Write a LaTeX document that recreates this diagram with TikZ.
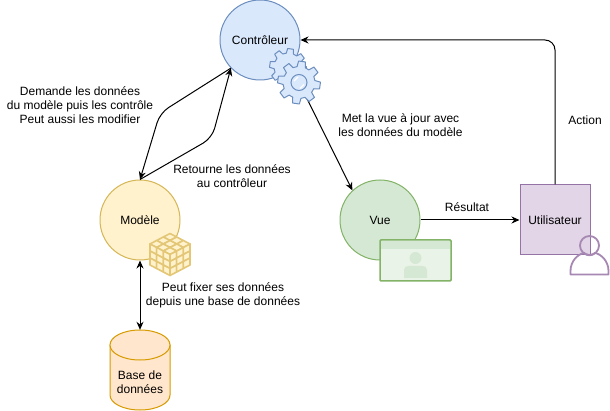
\documentclass[tikz,border=0pt]{standalone}
\usepackage{fontspec}
\setmainfont{Liberation Sans}
\usetikzlibrary{arrows.meta}
\definecolor{ctrlfill}{HTML}{DAE8FC}\definecolor{ctrlline}{HTML}{6C8EBF}
\definecolor{modfill}{HTML}{FFF2CC}\definecolor{modline}{HTML}{D6B656}
\definecolor{vuefill}{HTML}{D5E8D4}\definecolor{vueline}{HTML}{82B366}
\definecolor{usrfill}{HTML}{E1D5E7}\definecolor{usrline}{HTML}{9673A6}
\definecolor{dbfill}{HTML}{FFE6CC}\definecolor{dbline}{HTML}{D79B00}
\definecolor{vuelight}{HTML}{E9F3E7}\definecolor{cubeline}{HTML}{E3C777}
\tikzset{
  txt/.style={font=\fontsize{12}{14}\selectfont,align=center,inner sep=0pt},
  roundnode/.style={circle,draw,line width=1pt,minimum size=80pt,inner sep=0pt,font=\fontsize{12}{14}\selectfont},
  arr/.style={-{Stealth[length=8pt,width=7pt]},line width=1pt,black},
  biarr/.style={{Stealth[length=8pt,width=7pt]}-{Stealth[length=8pt,width=7pt]},line width=1pt,black},
  gearline/.style={draw=ctrlline,fill=ctrlfill,line width=1pt,line join=round},
  cubecell/.style={draw=cubeline,fill=modfill,line width=1.6pt,line join=round}
}
\newcommand\gearshape[5]{%
  \path[gearline] ([shift={(#1,#2)}]#5-15:#4)
  \foreach \t in {0,45,...,315}{
    -- ([shift={(#1,#2)}]#5+\t-15:#4) -- ([shift={(#1,#2)}]#5+\t-9:#3)
    -- ([shift={(#1,#2)}]#5+\t+9:#3) -- ([shift={(#1,#2)}]#5+\t+15:#4)
  } -- cycle;}
\newcommand\cubeface[6]{%
  \foreach \i in {0,1,2}{\foreach \j in {0,1,2}{
    \path[cubecell]
      ({#1+\i*#3+\j*#5},{#2+\i*#4+\j*#6})
      -- ++(#3,#4) -- ++(#5,#6) -- ++({-(#3)},{-(#4)}) -- cycle;
  }}}
\begin{document}
\begin{tikzpicture}[x=1pt,y=-1pt]
\useasboundingbox (0,0) rectangle (610,411);
\fill[white] (0,0) rectangle (610,411);
% main shapes
\node[roundnode,draw=ctrlline,fill=ctrlfill] (ctrl) at (260,40) {Contrôleur};
\node[roundnode,draw=modline,fill=modfill] (model) at (140,220) {Modèle};
\node[roundnode,draw=vueline,fill=vuefill] (vue) at (380,220) {Vue};
\node[rectangle,draw=usrline,fill=usrfill,line width=1pt,minimum size=70pt,inner sep=0pt,font=\fontsize{12}{14}\selectfont] (user) at (555,220) {Utilisateur};
% database
\path[draw=dbline,fill=dbfill,line width=1pt]
  (110,345) -- (110,395) .. controls (110,403.3) and (123.4,410) .. (140,410)
  .. controls (156.6,410) and (170,403.3) .. (170,395) -- (170,345) -- cycle;
\path[draw=dbline,fill=dbfill,line width=1pt] (140,345) circle[x radius=30,y radius=15];
\node[minimum width=60pt,minimum height=80pt,inner sep=0pt] (db) at (140,370) {};
\node[txt] (dbtext) at (140,382) {Base de\\données};
% connectors
\coordinate (gear) at (299,82.5);
\coordinate (leftbend) at (160,113);
\coordinate (rightbend) at (212,138);
\coordinate (actionbend) at (555,40);
\draw[arr,rounded corners=10pt] (ctrl.224) -- (leftbend) -- (model.north);
\draw[arr,rounded corners=10pt] (model.north) -- (rightbend) -- (ctrl.224);
\draw[arr] (gear) -- (vue.133);
\draw[arr] (vue.east) -- (user.west);
\draw[arr,rounded corners=10pt] (user.north) -- (actionbend) -- (ctrl.east);
\draw[biarr] (model.south) -- (db.north);
% gears
\gearshape{288}{67}{18.5}{14}{8}
\gearshape{299}{82.5}{21.5}{16}{8}
\path[draw=ctrlline,fill=ctrlfill,line width=1pt] (299,82.5) circle[radius=8];
\draw[white,line width=1.2pt] (294,81) -- (298,77);
\draw[white,line width=1.2pt] (300,88.5) -- (304,84.5);
% cube
\cubeface{170}{233.5}{6.67}{3.5}{-6.67}{3.5}
\cubeface{150}{244}{6.67}{3.5}{0}{7}
\cubeface{170}{254.5}{6.67}{-3.5}{0}{7}
% view picture
\path[draw=vueline,fill=vuelight,line width=1.5pt,rounded corners=1pt] (380,240) rectangle (451,281);
\fill[vuefill] (380.8,240.8) rectangle (450.2,249);
\fill[vuefill] (415.5,258) circle[radius=6];
\fill[vuefill] (404,278) -- (404,270) .. controls (404,267) and (406,266) .. (409,266)
  -- (422,266) .. controls (425,266) and (427,267) .. (427,270) -- (427,278) -- cycle;
% user icon
\draw[usrline!85!white,line width=1.8pt] (589.5,245.5) circle[radius=9.5];
\draw[usrline!85!white,line width=1.8pt,line join=round] (570.5,274.5) -- (570.5,271)
  .. controls (570.5,261) and (578,254) .. (584,253)
  .. controls (587,256) and (592,256) .. (595,253)
  .. controls (601,254) and (608.5,261) .. (608.5,271) -- (608.5,274.5) -- cycle;
% labels
\node[txt] (l1) at (80,105) {Demande les données\\du modèle puis les contrôle\\Peut aussi les modifier};
\node[txt] (l2) at (232,176) {Retourne les données\\au contrôleur};
\node[txt] (l3) at (400.5,125) {Met la vue à jour avec\\les données du modèle};
\node[txt] (l4) at (467,207) {Résultat};
\node[txt] (l5) at (585,120) {Action};
\node[txt] (l6) at (223,295) {Peut fixer ses données\\depuis une base de données};
\end{tikzpicture}
\end{document}
